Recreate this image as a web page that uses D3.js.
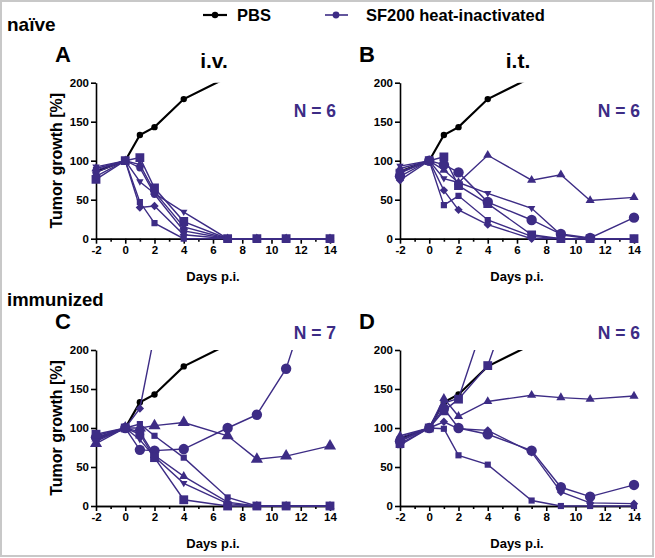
<!DOCTYPE html>
<html>
<head>
<meta charset="utf-8">
<script src="https://cdn.jsdelivr.net/npm/d3@7"></script>
<style>
  body { margin: 0; background: #fff; }
  svg { font-family: "Liberation Sans", Arial, sans-serif; font-weight: bold; }
  .axis path, .axis line { stroke: #000; stroke-width: 1.6px; }
  .axis text { font-size: 11.5px; font-weight: bold; fill: #000; }
</style>
</head>
<body>
<div id="chart"></div>
<script>
// days post infection
var days = [-2, 0, 1, 2, 4, 7, 9, 11, 14];
var xTicks = [-2, 0, 2, 4, 6, 8, 10, 12, 14];
var yTicks = [0, 50, 100, 150, 200];

// PBS control (same curve in every panel)
var pbs = [86, 100, 133, 143, 179, 207, null, null, null];

// A: naive, i.v.
var shapesA = ["circle", "squareBig", "triangle", "triDown", "diamond", "square"];
var valuesA = [
  [85, 100, 91, 57, 10, 0, 0, 0, 0],
  [76, 100, 104, 65, 22, 0, 0, 0, 0],
  [90, 100, 95, 60, 15, 0, 0, 0, 0],
  [92, 100, 73, 58, 34, 0, 0, 0, 0],
  [80, 100, 40, 42, 5, 0, 0, 0, 0],
  [88, 100, 47, 20, 0, 0, 0, 0, 0]
];

// B: naive, i.t.
var shapesB = ["triangle", "triDown", "circleBig", "squareBig", "square", "diamond"];
var valuesB = [
  [90, 100, 88, 72, 107, 75, 82, 49, 53],
  [93, 100, 77, 72, 58, 39, 5, 0, 0],
  [80, 100, 95, 85, 47, 24, 6, 1, 27],
  [84, 100, 105, 68, 45, 5, 0, 0, 0],
  [86, 100, 43, 55, 24, 3, 0, 0, 0],
  [75, 100, 62, 37, 18, 0, 0, 0, 0]
];

// C: immunized, i.v.
var shapesC = ["diamond", "circleBig", "triangleBig", "square", "triangle", "triDown", "squareBig"];
var valuesC = [
  [85, 100, 125, 220, null, null, null, null, null],
  [88, 100, 72, 71, 73, 100, 117, 176, 350],
  [80, 100, 100, 103, 107, 90, 60, 64, 77],
  [90, 100, 105, 90, 62, 11, 0, 0, 0],
  [86, 100, 95, 65, 38, 5, 0, 0, 0],
  [83, 100, 85, 63, 29, 3, 0, 0, 0],
  [92, 100, 92, 62, 8, 0, 0, 0, 0]
];

// D: immunized, i.t.
var shapesD = ["squareBig", "triDown", "triangle", "circleBig", "diamond", "square"];
var valuesD = [
  [80, 100, 122, 137, 180, 340, null, null, null],
  [85, 100, 132, 138, 250, null, null, null, null],
  [90, 100, 138, 115, 134, 142, 139, 137, 141],
  [83, 100, 125, 100, 92, 71, 24, 12, 27],
  [88, 100, 108, 99, 97, 69, 18, 4, 3],
  [78, 100, 99, 65, 53, 7, 0, 0, 0]
];

var purple = "#3d2c85";
var width = 655, height = 558;

var svg = d3.select("#chart").append("svg")
  .attr("width", width).attr("height", height);

// grey frame
svg.append("rect")
  .attr("x", 1).attr("y", 1).attr("width", width - 3).attr("height", height - 3)
  .attr("fill", "none").attr("stroke", "#c8c8c8").attr("stroke-width", 2);

function markerPath(shape) {
  var s;
  switch (shape) {
    case "circle": s = d3.symbol(d3.symbolCircle, 42); break;
    case "circleBig": s = d3.symbol(d3.symbolCircle, 85); break;
    case "squareBig": s = d3.symbol(d3.symbolSquare, 78); break;
    case "square": s = d3.symbol(d3.symbolSquare, 38); break;
    case "triangle": s = d3.symbol(d3.symbolTriangle, 36); break;
    case "triangleBig": s = d3.symbol(d3.symbolTriangle, 64); break;
    case "triDown": return "M-3.7,-2.4L3.7,-2.4L0,3.9Z";
    case "diamond": return "M0,-4.2L4.2,0L0,4.2L-4.2,0Z";
  }
  return s();
}

var clipId = 0;

function panel(opt) {
  var x = d3.scaleLinear().domain([-2, 14]).range([opt.left, opt.left + 234]);
  var y = d3.scaleLinear().domain([0, 200]).range([opt.top + 156, opt.top]);
  var fmt = function(d) { return String(d).replace("\u2212", "-"); };

  var g = svg.append("g");

  // x axis with minor ticks
  g.append("g").attr("class", "axis")
    .attr("transform", "translate(0," + y(0) + ")")
    .call(d3.axisBottom(x).tickValues(d3.range(-1, 14, 2)).tickSize(3).tickSizeOuter(0).tickFormat(""));
  g.append("g").attr("class", "axis")
    .attr("transform", "translate(0," + y(0) + ")")
    .call(d3.axisBottom(x).tickValues(xTicks).tickSize(5).tickSizeOuter(0).tickPadding(2).tickFormat(fmt));

  // y axis
  g.append("g").attr("class", "axis")
    .attr("transform", "translate(" + x(-2) + ",0)")
    .call(d3.axisLeft(y).tickValues(yTicks).tickSize(5).tickSizeOuter(0).tickPadding(2).tickFormat(fmt));

  if (opt.ylabel) {
    g.append("text")
      .attr("transform", "translate(" + 62 + "," + y(100) + ") rotate(-90)")
      .attr("text-anchor", "middle")
      .attr("font-size", 16)
      .text("Tumor growth [%]");
  }

  g.append("text")
    .attr("x", x(6)).attr("y", y(0) + 42)
    .attr("text-anchor", "middle").attr("font-size", 13)
    .text("Days p.i.");

  g.append("text")
    .attr("x", opt.left - 41).attr("y", opt.top - 21)
    .attr("font-size", 22)
    .text(opt.letter);

  if (opt.title) {
    g.append("text")
      .attr("x", x(6) + 1).attr("y", opt.top - 15)
      .attr("text-anchor", "middle").attr("font-size", 21)
      .text(opt.title);
  }

  g.append("text")
    .attr("x", opt.left + 240).attr("y", opt.nY)
    .attr("text-anchor", "end").attr("font-size", 17.5)
    .attr("fill", purple)
    .text(opt.n);

  // clipping keeps curves inside 0..200
  var id = "clip" + (clipId++);
  svg.append("clipPath").attr("id", id)
    .append("rect")
    .attr("x", opt.left - 10).attr("y", y(200))
    .attr("width", 254).attr("height", 175);

  var plot = g.append("g").attr("clip-path", "url(#" + id + ")");

  var line = d3.line()
    .defined(function(d) { return d[1] != null; })
    .x(function(d) { return x(d[0]); })
    .y(function(d) { return y(d[1]); });

  // PBS
  var pbsPts = days.map(function(d, i) { return [d, pbs[i]]; });
  plot.append("path").datum(pbsPts)
    .attr("d", line).attr("fill", "none")
    .attr("stroke", "#000").attr("stroke-width", 2.2);
  plot.selectAll(".pbsdot")
    .data(pbsPts.filter(function(d) { return d[1] != null && d[0] > 0; }))
    .enter().append("circle")
    .attr("cx", function(d) { return x(d[0]); })
    .attr("cy", function(d) { return y(d[1]); })
    .attr("r", 3.2).attr("fill", "#000");

  // SF200 heat-inactivated, one line per mouse
  opt.values.forEach(function(vals, k) {
    var pts = days.map(function(d, i) { return [d, vals[i]]; });
    plot.append("path").datum(pts)
      .attr("d", line).attr("fill", "none")
      .attr("stroke", purple).attr("stroke-width", 1.4);
    plot.selectAll(".m" + k)
      .data(pts.filter(function(d) { return d[1] != null; }))
      .enter().append("path")
      .attr("transform", function(d) { return "translate(" + x(d[0]) + "," + y(d[1]) + ")"; })
      .attr("d", markerPath(opt.shapes[k]))
      .attr("fill", purple);
  });
}

panel({ left: 96, top: 82.7, letter: "A", title: "i.v.", n: "N = 6", nY: 117, ylabel: true, values: valuesA, shapes: shapesA });
panel({ left: 400, top: 82.7, letter: "B", title: "i.t.", n: "N = 6", nY: 117, ylabel: false, values: valuesB, shapes: shapesB });
panel({ left: 96, top: 350, letter: "C", title: null, n: "N = 7", nY: 339, ylabel: true, values: valuesC, shapes: shapesC });
panel({ left: 400, top: 350, letter: "D", title: null, n: "N = 6", nY: 339, ylabel: false, values: valuesD, shapes: shapesD });

// row labels
svg.append("text").attr("x", 7).attr("y", 31).attr("font-size", 19).text("naïve");
svg.append("text").attr("x", 7).attr("y", 306).attr("font-size", 18.5).text("immunized");

// legend
var leg = svg.append("g").attr("transform", "translate(0,15)");
leg.append("line").attr("x1", 203).attr("x2", 227).attr("stroke", "#000").attr("stroke-width", 2.2);
leg.append("circle").attr("cx", 215).attr("r", 3.2).attr("fill", "#000");
leg.append("text").attr("x", 237).attr("y", 6).attr("font-size", 16.5).text("PBS");
leg.append("line").attr("x1", 325).attr("x2", 348).attr("stroke", purple).attr("stroke-width", 1.6);
leg.append("circle").attr("cx", 336).attr("r", 3.4).attr("fill", purple);
leg.append("text").attr("x", 366).attr("y", 6).attr("font-size", 16.5).text("SF200 heat-inactivated");
</script>
</body>
</html>
